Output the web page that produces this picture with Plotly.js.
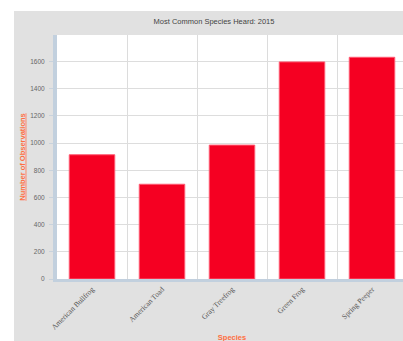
<!DOCTYPE html>
<html>
<head>
<meta charset="utf-8">
<script src="https://cdn.plot.ly/plotly-3.0.1.min.js"></script>
<style>
html, body { margin: 0; padding: 0; background: #ffffff; overflow: hidden; width: 403px; height: 341px; }
#chart { position: absolute; left: 14px; top: 11px; width: 400px; height: 340px; }
</style>
</head>
<body>
<div id="chart"></div>
<script>
var species = ["American Bullfrog", "American Toad", "Gray Treefrog", "Green Frog", "Spring Peeper"];
var observations = [914, 697, 985, 1597, 1631];
var chartTitle = "Most Common Species Heard: 2015";
var xTitle = "Species";
var yTitle = "Number of Observations";

var trace = {
  type: "bar",
  x: species,
  y: observations,
  width: 0.65,
  marker: { color: "#f50022", line: { color: "#ff5a72", width: 1 } },
  hoverinfo: "x+y"
};

var layout = {
  width: 400,
  height: 340,
  paper_bgcolor: "#e1e1e1",
  plot_bgcolor: "#ffffff",
  margin: { l: 43, r: 7, t: 24, b: 72 },
  showlegend: false,
  title: {
    text: chartTitle,
    x: 0.5, xref: "container", xanchor: "center",
    y: 0.9706, yref: "container", yanchor: "middle",
    font: { family: "Liberation Sans, Arial, sans-serif", size: 7.5, color: "#444444" }
  },
  xaxis: {
    type: "category",
    tickson: "boundaries",
    showgrid: true,
    gridcolor: "#dcdcdc",
    gridwidth: 1,
    showline: true,
    linecolor: "#c2d0de",
    linewidth: 3,
    ticks: "",
    tickangle: -45,
    tickfont: { family: "Liberation Serif, Times New Roman, serif", size: 7.5, color: "#555555" },
    automargin: false,
    title: {
      text: "<b>" + xTitle + "</b>",
      standoff: 5,
      font: { family: "Liberation Sans, Arial, sans-serif", size: 7.5, color: "#ff6e40" }
    }
  },
  yaxis: {
    range: [0, 1795],
    dtick: 200,
    showgrid: true,
    gridcolor: "#dddddd",
    gridwidth: 1,
    zeroline: false,
    showline: true,
    linecolor: "#c2d0de",
    linewidth: 4,
    ticks: "outside",
    ticklen: 4,
    tickcolor: "#c8d2dc",
    ticklabelstandoff: 3,
    tickfont: { family: "Liberation Sans, Arial, sans-serif", size: 6.5, color: "#666666" },
    automargin: false,
    title: {
      text: "<u><b>" + yTitle + "</b></u>",
      standoff: 5,
      font: { family: "Liberation Sans, Arial, sans-serif", size: 7.5, color: "#ff6e40" }
    }
  },
  bargap: 0.35
};

Plotly.newPlot("chart", [trace], layout, { displayModeBar: false, staticPlot: true });
</script>
</body>
</html>
